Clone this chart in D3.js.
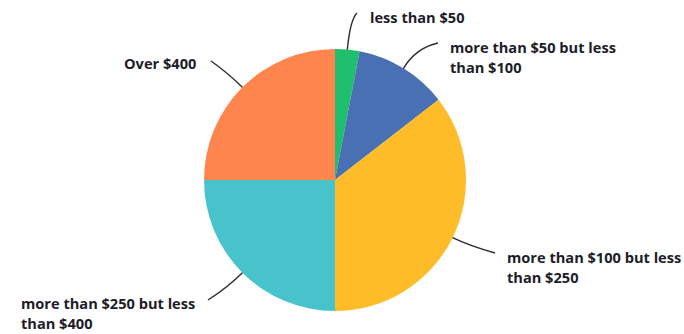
<!DOCTYPE html>
<html>
<head>
<meta charset="utf-8">
<script src="https://cdn.jsdelivr.net/npm/d3@7"></script>
<style>
  html, body { margin: 0; padding: 0; background: #fff; }
  svg { display: block; }
  .lbl { font-family: "Open Sans", Roboto, sans-serif; font-weight: 700; font-size: 14.6px; fill: #1d1d28; }
</style>
</head>
<body>
<svg id="chart" width="684" height="334"></svg>
<script>
// Spending brackets, clockwise from 12 o'clock
const categories = [
  "less than $50",
  "more than $50 but less than $100",
  "more than $100 but less than $250",
  "more than $250 but less than $400",
  "Over $400"
];
const shares = [3, 11.5, 35.5, 25, 25];
const labelLines = [
  ["less than $50"],
  ["more than $50 but less", "than $100"],
  ["more than $100 but less", "than $250"],
  ["more than $250 but less", "than $400"],
  ["Over $400"]
];
const colors = ["#1ebf6d", "#4a70b4", "#fdbc28", "#49c3cb", "#ff854f"];

// Layout: pie geometry and callout placement (relative to pie centre)
const W = 684, H = 334;
const cx = 335, cy = 180, R = 131;
const callouts = [
  { end: [22, -167], ctrl: 30, text: [35, -157] },
  { end: [103, -137], ctrl: 24, text: [115, -127] },
  { end: [160, 73], ctrl: 18, text: [172, 83] },
  { end: [-127, 120], ctrl: 20, text: [-314, 129] },
  { end: [-124, -119], ctrl: 20, text: [-211, -111] }
];

const svg = d3.select("#chart");
const g = svg.append("g").attr("transform", `translate(${cx},${cy})`);

const data = categories.map((c, i) => ({ name: c, value: shares[i], lines: labelLines[i], color: colors[i], co: callouts[i] }));

const pie = d3.pie().sort(null).value(d => d.value);
const arc = d3.arc().innerRadius(0).outerRadius(R);
const arcs = pie(data);

g.selectAll("path.slice")
  .data(arcs)
  .join("path")
  .attr("class", "slice")
  .attr("d", arc)
  .attr("fill", d => d.data.color);

// Leader lines start on the rim at each slice's mid-angle
const leader = d => {
  const a = (d.startAngle + d.endAngle) / 2;
  const sx = Math.sin(a) * R, sy = -Math.cos(a) * R;
  const rc = R + d.data.co.ctrl;
  const qx = Math.sin(a) * rc, qy = -Math.cos(a) * rc;
  const [ex, ey] = d.data.co.end;
  const p = d3.path();
  p.moveTo(sx, sy);
  p.quadraticCurveTo(qx, qy, ex, ey);
  return p.toString();
};

g.selectAll("path.leader")
  .data(arcs)
  .join("path")
  .attr("class", "leader")
  .attr("d", leader)
  .attr("fill", "none")
  .attr("stroke", "#2b2b33")
  .attr("stroke-width", 1.4);

const labels = g.selectAll("text.lbl")
  .data(arcs)
  .join("text")
  .attr("class", "lbl")
  .attr("x", d => d.data.co.text[0])
  .attr("y", d => d.data.co.text[1]);

labels.selectAll("tspan")
  .data(d => d.data.lines.map(t => ({ t, x: d.data.co.text[0] })))
  .join("tspan")
  .attr("x", d => d.x)
  .attr("dy", (d, i) => i === 0 ? 0 : 20)
  .text(d => d.t);
</script>
</body>
</html>
